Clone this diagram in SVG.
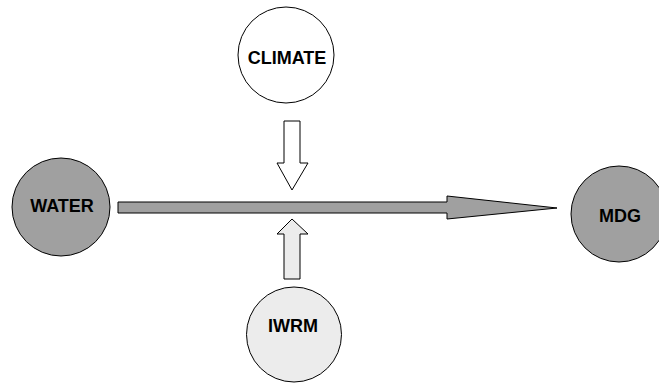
<svg xmlns="http://www.w3.org/2000/svg" width="659" height="383" viewBox="0 0 659 383">
<style>
.node{stroke:#000;stroke-width:1}
.dark{fill:#a0a0a0}
.white{fill:#fff}
.light{fill:#ececec}
.lbl{font-family:"Liberation Sans",Arial,sans-serif;font-weight:bold;font-size:18px;fill:#000;text-anchor:middle}
.arr{stroke:#000;stroke-width:1;stroke-linejoin:miter}
</style>
<rect width="659" height="383" fill="#fff"/>
<g id="connectors">
<polygon class="arr dark" points="118,202 447,202 447,196 557,208 447,219 447,213 118,213"/>
<polygon class="arr white" points="284,121 300,121 300,163 308,163 292,190 277,163 284,163"/>
<polygon class="arr light" points="284,279 300,279 300,234 308,234 292,219 277,234 284,234"/>
</g>
<g id="water">
<circle class="node dark" cx="61" cy="207" r="49"/>
<text class="lbl" x="62" y="212">WATER</text>
</g>
<g id="climate">
<circle class="node white" cx="286" cy="55" r="48"/>
<text class="lbl" x="287" y="64">CLIMATE</text>
</g>
<g id="iwrm">
<circle class="node light" cx="294" cy="334.5" r="47.5"/>
<text class="lbl" x="293" y="332">IWRM</text>
</g>
<g id="mdg">
<circle class="node dark" cx="619" cy="214" r="48"/>
<text class="lbl" x="620" y="222">MDG</text>
</g>
</svg>
